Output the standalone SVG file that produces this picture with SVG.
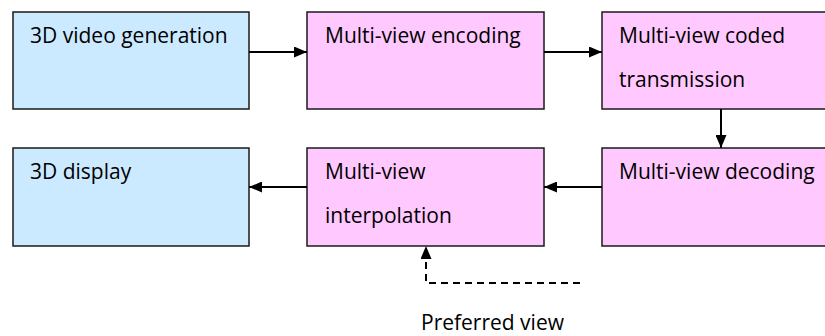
<svg xmlns="http://www.w3.org/2000/svg" width="825" height="336" viewBox="0 0 825 336">
  <style>
    .box { stroke: #1a1a1a; stroke-width: 1.5; }
    .blue { fill: #cceaff; }
    .pink { fill: #ffc9ff; }
    .lbl { font-family: "Open Sans", "Noto Sans", sans-serif; font-size: 21px; fill: #000; }
    .conn { stroke: #000; stroke-width: 2; fill: none; }
    .dash { stroke-dasharray: 7 5; }
  </style>
  <defs>
    <marker id="arr" markerWidth="13" markerHeight="11" refX="13" refY="5.5" orient="auto" markerUnits="userSpaceOnUse">
      <path d="M0,0 L13,5.5 L0,11 Z" fill="#000"/>
    </marker>
  </defs>

  <g id="node-3d-video-generation">
    <rect class="box blue" x="13" y="12" width="236" height="97"/>
    <text class="lbl" x="30" y="43">3D video generation</text>
  </g>
  <g id="node-multiview-encoding">
    <rect class="box pink" x="307" y="12" width="237" height="97"/>
    <text class="lbl" x="325" y="43">Multi-view encoding</text>
  </g>
  <g id="node-multiview-coded-transmission">
    <rect class="box pink" x="602" y="12" width="237" height="97"/>
    <text class="lbl" x="619" y="43">Multi-view coded</text>
    <text class="lbl" x="619" y="87">transmission</text>
  </g>
  <g id="node-3d-display">
    <rect class="box blue" x="13" y="148" width="236" height="98"/>
    <text class="lbl" x="30" y="179">3D display</text>
  </g>
  <g id="node-multiview-interpolation">
    <rect class="box pink" x="307" y="148" width="237" height="98"/>
    <text class="lbl" x="325" y="179">Multi-view</text>
    <text class="lbl" x="325" y="223">interpolation</text>
  </g>
  <g id="node-multiview-decoding">
    <rect class="box pink" x="602" y="148" width="237" height="98"/>
    <text class="lbl" x="619" y="179">Multi-view decoding</text>
  </g>
  <g id="node-preferred-view">
    <text class="lbl" x="421" y="330">Preferred view</text>
  </g>

  <g id="connectors">
    <line class="conn" x1="249" y1="52" x2="307" y2="52" marker-end="url(#arr)"/>
    <line class="conn" x1="544" y1="52" x2="602" y2="52" marker-end="url(#arr)"/>
    <line class="conn" x1="721" y1="109" x2="721" y2="148" marker-end="url(#arr)"/>
    <line class="conn" x1="602" y1="187" x2="544" y2="187" marker-end="url(#arr)"/>
    <line class="conn" x1="307" y1="187" x2="249" y2="187" marker-end="url(#arr)"/>
    <path class="conn dash" d="M580,283 L426,283 L426,246" marker-end="url(#arr)"/>
  </g>
</svg>
